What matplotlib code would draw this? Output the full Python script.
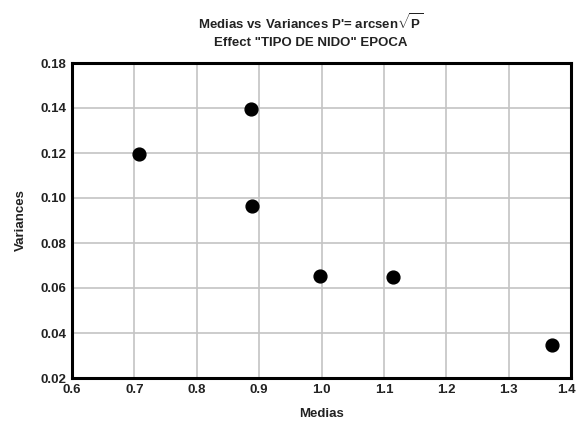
import matplotlib
matplotlib.use("Agg")
import matplotlib.pyplot as plt
import matplotlib.transforms as mtransforms

# group means and variances of the transformed proportions
medias = [0.708, 0.887, 0.888, 0.998, 1.114, 1.370]
variances = [0.1195, 0.1397, 0.0964, 0.0653, 0.0649, 0.0348]

x_ticks = [0.6, 0.7, 0.8, 0.9, 1.0, 1.1, 1.2, 1.3, 1.4]
x_labels = ["0.6", "0.7", "0.8", "0.9", "1.0", "1.1", "1.2", "1.3", "1.4"]
y_ticks = [0.02, 0.04, 0.06, 0.08, 0.10, 0.12, 0.14, 0.16]
y_labels = ["0.02", "0.04", "0.06", "0.08", "0.10", "0.12", "0.14", "0.18"]

plt.rcParams['font.family'] = ['Liberation Sans', 'DejaVu Sans']
plt.rcParams['mathtext.fontset'] = 'custom'
plt.rcParams['mathtext.rm'] = 'Liberation Sans:bold'
plt.rcParams['mathtext.it'] = 'Liberation Sans:bold'

fig = plt.figure(figsize=(5.78, 4.23), dpi=100)
ax = fig.add_axes([72 / 578, 1 - 378 / 423, 499 / 578, 315 / 423])

ax.scatter(medias, variances, s=85, color='black', zorder=3)

ax.set_xlim(0.6, 1.4)
ax.set_ylim(0.02, 0.16)
ax.set_xticks(x_ticks)
ax.set_xticklabels(x_labels)
ax.set_yticks(y_ticks)
ax.set_yticklabels(y_labels)
ax.grid(True, color='#c4c4c4', linewidth=1.2)
ax.set_axisbelow(True)
ax.tick_params(length=0, labelsize=9.5, pad=4)
for lbl in ax.get_xticklabels() + ax.get_yticklabels():
    lbl.set_fontweight('bold')
    lbl.set_color('#222222')

# keep the last x label inside the figure
last = ax.get_xticklabels()[-1]
last.set_transform(last.get_transform() + mtransforms.ScaledTranslation(-5 / 100, 0, fig.dpi_scale_trans))

for sp in ax.spines.values():
    sp.set_linewidth(2.2)
    sp.set_color('black')

ax.set_xlabel('Medias', fontsize=9.5, fontweight='bold', color='#222222', labelpad=9)
ax.set_ylabel('Variances', fontsize=9.5, fontweight='bold', color='#222222', labelpad=10)

fig.text(0.537, 0.947, "Medias vs Variances P'= arcsen$\\sqrt{P}$",
         ha='center', va='center', fontsize=9.5, fontweight='bold', color='#222222')
fig.text(0.537, 0.898, 'Effect "TIPO DE NIDO" EPOCA',
         ha='center', va='center', fontsize=9.5, fontweight='bold', color='#222222')

fig.savefig('out.png', dpi=100)
